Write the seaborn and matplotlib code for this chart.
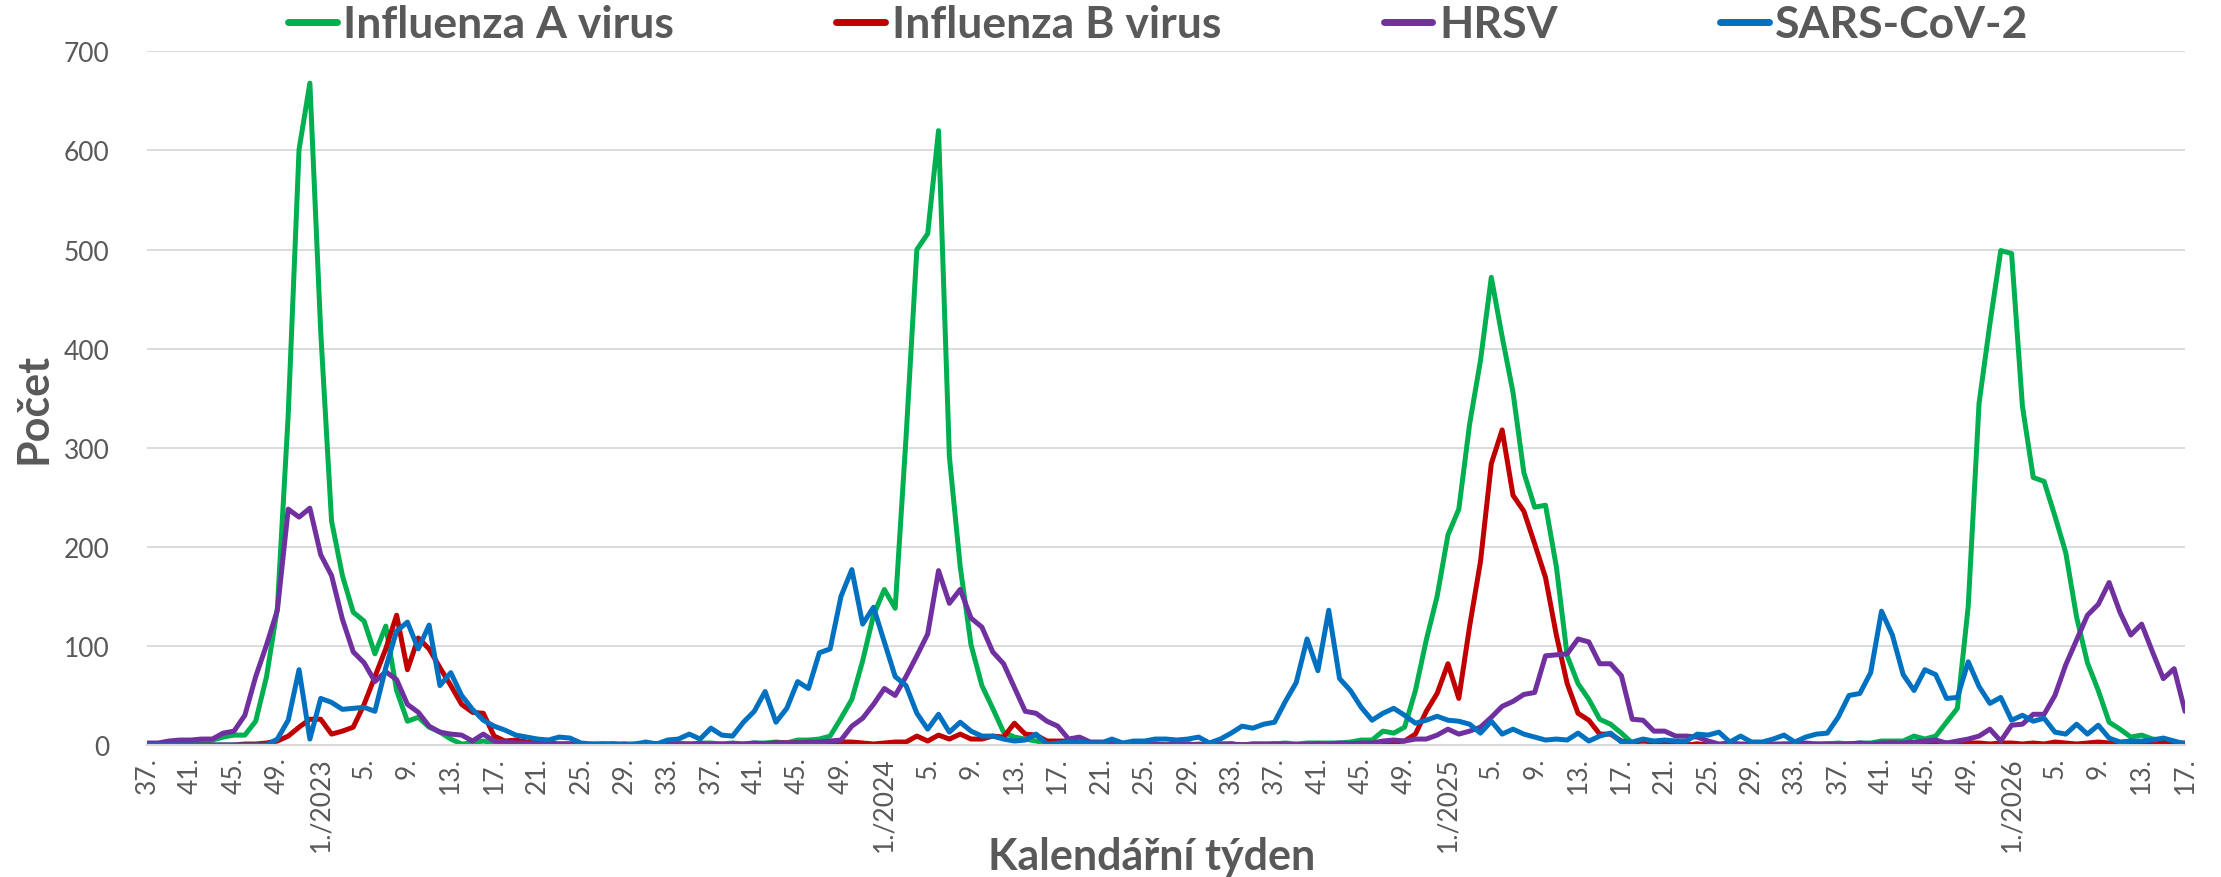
import numpy as np
import pandas as pd
import matplotlib
matplotlib.use("Agg")
import matplotlib.pyplot as plt
import seaborn as sns

sns.set_style("white")
plt.rcParams['font.family'] = ['Lato', 'DejaVu Sans']

# calendar weeks 37/2022 .. 17/2026
years = [2022] * 16 + [2023] * 52 + [2024] * 52 + [2025] * 52 + [2026] * 17
weeks = list(range(37, 53)) + list(range(1, 53)) * 3 + list(range(1, 18))

flu_a = [
    # 2022 w37-52
    0, 0, 0, 1, 2, 3, 5, 8, 10, 10, 24, 69, 138, 333, 601, 668,
    # 2023
    417, 226, 171, 134, 125, 92, 120, 55, 24, 28, 18, 13, 6, 1, 2, 4,
    2, 1, 1, 1, 0, 1, 0, 1, 0, 1, 1, 0, 1, 1, 1, 1,
    1, 2, 1, 2, 2, 1, 2, 1, 2, 2, 3, 2, 5, 5, 6, 9,
    27, 46, 85, 131,
    # 2024
    157, 138, 310, 500, 516, 620, 291, 180, 101, 60, 37, 13, 8, 6, 4, 2,
    1, 1, 0, 1, 0, 0, 1, 0, 1, 0, 0, 1, 0, 1, 0, 1,
    1, 0, 1, 1, 1, 2, 1, 2, 2, 2, 2, 3, 5, 5, 14, 12,
    18, 55, 106, 150,
    # 2025
    212, 238, 324, 388, 472, 412, 356, 275, 240, 242, 180, 90, 62, 46, 26, 21,
    12, 2, 1, 0, 0, 1, 0, 1, 0, 0, 1, 0, 1, 1, 0, 1,
    1, 0, 1, 1, 2, 1, 2, 2, 4, 4, 4, 9, 6, 9, 23, 37,
    140, 345, 425, 499,
    # 2026 w1-17
    496, 342, 270, 266, 231, 194, 129, 83, 55, 23, 16, 8, 10, 6, 5, 2, 1,
]

flu_b = [
    0, 0, 0, 0, 0, 0, 0, 0, 0, 1, 1, 2, 4, 9, 18, 26,
    26, 11, 14, 18, 41, 69, 97, 131, 76, 108, 97, 78, 60, 41, 33, 32,
    9, 4, 5, 3, 2, 2, 1, 1, 1, 0, 0, 1, 0, 0, 0, 1,
    0, 0, 0, 1, 0, 0, 1, 0, 1, 1, 2, 2, 2, 2, 2, 2,
    3, 3, 2, 1,
    2, 3, 3, 9, 4, 10, 6, 11, 6, 6, 9, 8, 22, 11, 10, 4,
    4, 4, 2, 1, 1, 0, 1, 0, 0, 1, 0, 0, 1, 0, 0, 0,
    1, 0, 0, 0, 1, 0, 0, 0, 1, 0, 0, 1, 1, 1, 0, 3,
    4, 11, 34, 52,
    82, 47, 120, 185, 284, 318, 252, 236, 203, 169, 111, 62, 32, 25, 11, 11,
    4, 2, 5, 2, 1, 1, 0, 1, 0, 0, 1, 0, 1, 1, 0, 0,
    1, 0, 0, 1, 0, 1, 1, 0, 1, 2, 1, 1, 2, 1, 2, 1,
    2, 2, 1, 2,
    2, 1, 2, 1, 3, 2, 1, 2, 3, 2, 1, 2, 1, 2, 3, 2, 2,
]

hrsv = [
    2, 2, 4, 5, 5, 6, 6, 12, 14, 30, 69, 101, 136, 238, 230, 239,
    192, 171, 127, 94, 83, 64, 74, 66, 41, 33, 19, 13, 11, 10, 4, 11,
    4, 3, 2, 2, 1, 1, 1, 1, 1, 0, 1, 1, 1, 0, 1, 1,
    1, 1, 1, 1, 1, 1, 1, 1, 2, 1, 2, 2, 2, 3, 3, 4,
    5, 19, 27, 41,
    57, 50, 69, 90, 112, 176, 143, 157, 128, 119, 94, 82, 58, 34, 32, 24,
    19, 6, 8, 3, 3, 2, 1, 1, 1, 1, 0, 1, 1, 0, 1, 1,
    1, 0, 1, 1, 1, 1, 0, 1, 1, 1, 2, 1, 2, 2, 4, 5,
    4, 6, 6, 10,
    16, 11, 14, 18, 28, 39, 44, 51, 53, 90, 91, 92, 107, 104, 82, 82,
    70, 26, 25, 14, 14, 9, 9, 8, 4, 1, 2, 1, 1, 2, 1, 1,
    1, 2, 1, 1, 1, 1, 2, 1, 2, 2, 2, 3, 4, 5, 2, 4,
    6, 9, 16, 4,
    20, 21, 31, 31, 50, 81, 106, 131, 142, 164, 134, 111, 122, 94, 67, 77, 34,
]

sars = [
    0, 0, 0, 0, 0, 0, 0, 0, 0, 0, 0, 0, 6, 25, 76, 6,
    47, 43, 36, 37, 38, 34, 78, 115, 124, 97, 121, 60, 73, 50, 36, 25,
    19, 15, 10, 8, 6, 5, 8, 7, 2, 1, 1, 1, 0, 1, 3, 1,
    5, 6, 11, 6, 17, 10, 9, 23, 34, 54, 23, 37, 64, 57, 93, 97,
    150, 177, 122, 139,
    104, 69, 60, 32, 16, 31, 13, 23, 14, 9, 9, 6, 4, 5, 11, 1,
    2, 3, 3, 2, 2, 6, 2, 4, 4, 6, 6, 5, 6, 8, 2, 6,
    12, 19, 17, 21, 23, 44, 63, 107, 75, 136, 67, 55, 38, 25, 32, 37,
    30, 22, 25, 29,
    25, 24, 21, 12, 24, 11, 16, 11, 8, 5, 6, 5, 12, 4, 9, 12,
    3, 3, 6, 4, 5, 4, 4, 11, 10, 13, 3, 9, 3, 3, 6, 10,
    3, 8, 11, 12, 28, 50, 52, 73, 135, 111, 71, 55, 76, 71, 47, 48,
    84, 59, 42, 48,
    25, 30, 24, 27, 13, 11, 21, 11, 20, 7, 3, 4, 4, 5, 7, 4, 1,
]

series = {
    'Influenza A virus': flu_a,
    'Influenza B virus': flu_b,
    'HRSV': hrsv,
    'SARS-CoV-2': sars,
}
palette = {
    'Influenza A virus': '#00B050',
    'Influenza B virus': '#C00000',
    'HRSV': '#7030A0',
    'SARS-CoV-2': '#0070C0',
}

idx = np.arange(len(weeks))
df = pd.concat([
    pd.DataFrame({'idx': idx, 'virus': name, 'count': vals})
    for name, vals in series.items()
])

tick_pos = idx[::4]
tick_lab = [f"{weeks[i]}./{years[i]}" if weeks[i] == 1 else f"{weeks[i]}."
            for i in tick_pos]

grey = '#595959'
fig = plt.figure(figsize=(22.21, 8.78), dpi=100)
ax = fig.add_axes([147.3 / 2221, 132 / 878, 2037.7 / 2221, 693.6 / 878])

sns.lineplot(data=df, x='idx', y='count', hue='virus', palette=palette,
             hue_order=list(series), linewidth=3.6, ax=ax, legend=True)
handles, labels = ax.get_legend_handles_labels()
ax.get_legend().remove()

ax.set_xlim(0, len(weeks) - 1)
ax.set_ylim(0, 700)
ax.set_yticks(range(0, 701, 100))
ax.set_xticks(tick_pos)
ax.set_xticklabels(tick_lab, rotation=90)
ax.tick_params(axis='both', colors=grey, labelsize=19, length=0)
ax.tick_params(axis='y', pad=27)
ax.tick_params(axis='x', pad=8)
ax.grid(axis='y', color='#D9D9D9', linewidth=1.3)
ax.set_axisbelow(True)
for s in ['left', 'right', 'top']:
    ax.spines[s].set_visible(False)
ax.spines['bottom'].set_color('#D9D9D9')
ax.spines['bottom'].set_linewidth(1.5)
ax.set_xlabel('')
ax.set_ylabel('')

fig.text(1152 / 2221, 1 - 857 / 878, 'Kalendářní týden', ha='center',
         va='center', fontsize=31, fontweight='bold', color=grey)
fig.text(33 / 2221, 1 - 408 / 878, 'Počet', ha='center', va='center',
         rotation=90, fontsize=31, fontweight='bold', color=grey)

for h in handles:
    h.set_linewidth(5)
leg = fig.legend(handles, labels, loc='center', bbox_to_anchor=(0.5215, 0.971),
                 ncol=4, frameon=False, handlelength=1.1, handletextpad=0.15,
                 columnspacing=3.65, prop={'size': 32, 'weight': 'bold'})
for t in leg.get_texts():
    t.set_color(grey)

fig.savefig('out.png', dpi=100)
